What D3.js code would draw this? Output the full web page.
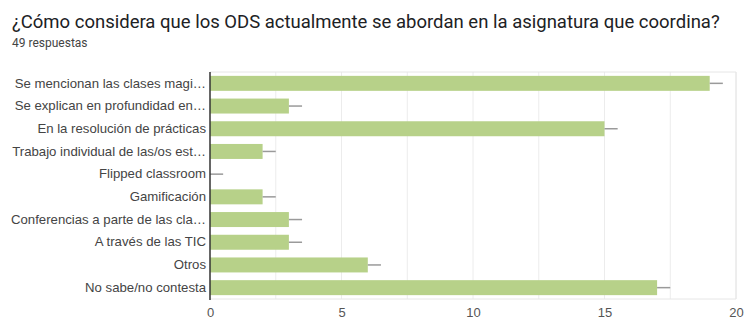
<!DOCTYPE html>
<html>
<head>
<meta charset="utf-8">
<script src="https://cdn.jsdelivr.net/npm/d3@7"></script>
<style>
  body { margin: 0; background: #fff; }
  svg { font-family: Roboto, "Noto Sans", sans-serif; }
</style>
</head>
<body>
<div id="chart"></div>
<script>
const categories = [
  'Se mencionan las clases magi…',
  'Se explican en profundidad en…',
  'En la resolución de prácticas',
  'Trabajo individual de las/os est…',
  'Flipped classroom',
  'Gamificación',
  'Conferencias a parte de las cla…',
  'A través de las TIC',
  'Otros',
  'No sabe/no contesta'
];
const values = [19, 3, 15, 2, 0, 2, 3, 3, 6, 17];
const errorBars = [0.5, 0.5, 0.5, 0.5, 0.5, 0.5, 0.5, 0.5, 0.5, 0.5];
const xTicks = [0, 5, 10, 15, 20];
const gridTicks = [2.5, 5, 7.5, 10, 12.5, 15, 17.5, 20];

const width = 745;
const height = 320;
const plotLeft = 210, plotRight = 736, plotTop = 72, plotBottom = 299;

const svg = d3.select('#chart').append('svg')
  .attr('width', width)
  .attr('height', height);

svg.append('text')
  .attr('x', 12).attr('y', 28)
  .style('font-size', '18.5px')
  .style('fill', '#202124')
  .text('¿Cómo considera que los ODS actualmente se abordan en la asignatura que coordina?');

svg.append('text')
  .attr('x', 12).attr('y', 47)
  .style('font-size', '12px')
  .style('fill', '#444')
  .text('49 respuestas');

const x = d3.scaleLinear().domain([0, 20]).range([plotLeft, plotRight]);
const y = d3.scaleBand().domain(categories).range([plotTop, plotBottom]).paddingInner(0.34).paddingOuter(0.17);

// gridlines
svg.append('g').selectAll('line')
  .data(gridTicks).enter()
  .append('line')
  .attr('x1', d => x(d)).attr('x2', d => x(d))
  .attr('y1', plotTop).attr('y2', plotBottom)
  .style('stroke', '#ececec');

// plot border (top, right, bottom)
svg.append('path')
  .attr('d', `M${plotLeft},${plotTop}H${plotRight}V${plotBottom}H${plotLeft}`)
  .style('fill', 'none')
  .style('stroke', '#e6e6e6');

// bars
svg.append('g').selectAll('rect')
  .data(values).enter()
  .append('rect')
  .attr('x', x(0))
  .attr('y', (d, i) => y(categories[i]))
  .attr('width', d => x(d) - x(0))
  .attr('height', y.bandwidth())
  .style('fill', '#b7d189');

// whiskers
svg.append('g').selectAll('line')
  .data(values).enter()
  .append('line')
  .attr('x1', d => x(d))
  .attr('x2', (d, i) => x(d + errorBars[i]))
  .attr('y1', (d, i) => y(categories[i]) + y.bandwidth() / 2)
  .attr('y2', (d, i) => y(categories[i]) + y.bandwidth() / 2)
  .style('stroke', '#9a9a9a')
  .style('stroke-width', 1.5);

// y axis
const yAxis = svg.append('g')
  .attr('transform', `translate(${plotLeft},0)`)
  .call(d3.axisLeft(y).tickSize(0).tickPadding(4));
yAxis.select('.domain').remove();
yAxis.selectAll('text')
  .style('font-size', '13.2px')
  .style('fill', '#444')
  .style('font-family', '"Liberation Sans", Arial, sans-serif');

svg.append('line')
  .attr('x1', plotLeft).attr('x2', plotLeft)
  .attr('y1', plotTop).attr('y2', plotBottom + 1)
  .style('stroke', '#333')
  .style('stroke-width', 1.5);

// x axis
const xAxis = svg.append('g')
  .attr('transform', `translate(0,${plotBottom})`)
  .call(d3.axisBottom(x).tickValues(xTicks).tickSize(0).tickPadding(9));
xAxis.select('.domain').remove();
xAxis.selectAll('text')
  .style('font-size', '13px')
  .style('fill', '#555')
  .style('font-family', '"Liberation Sans", Arial, sans-serif');
</script>
</body>
</html>
